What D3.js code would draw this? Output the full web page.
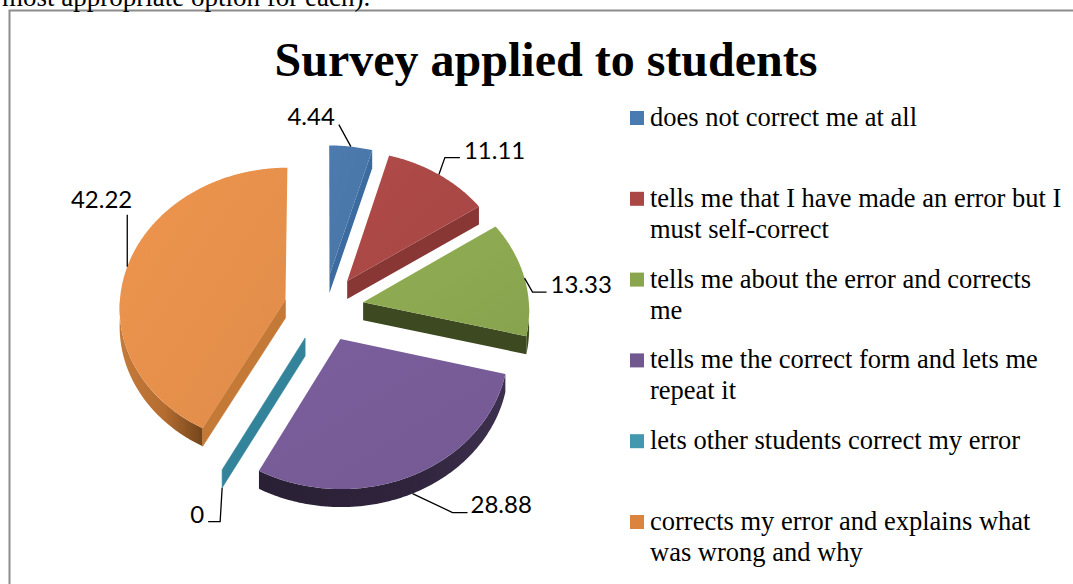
<!DOCTYPE html>
<html>
<head>
<meta charset="utf-8">
<script src="https://cdn.jsdelivr.net/npm/d3@7"></script>
<style>
  html, body { margin: 0; padding: 0; background: #fff; overflow: hidden; }
  svg { display: block; }
</style>
</head>
<body>
<svg id="chart" width="1073" height="584"></svg>
<script>
// ---- data ----
const categories = [
  "does not correct me at all",
  "tells me that I have made an error but I must self-correct",
  "tells me about the error and corrects me",
  "tells me the correct form and lets me repeat it",
  "lets other students correct my error",
  "corrects my error and explains what was wrong and why"
];
const values = [4.44, 11.11, 13.33, 28.88, 0, 42.22];
const valueLabels = ["4.44", "11.11", "13.33", "28.88", "0", "42.22"];
const chartTitle = "Survey applied to students";
const precedingText = "most appropriate option for each).";

// ---- styles ----
const topColors    = ["#4A76A8", "#A94845", "#8BA750", "#765B96", "#3A8FA6", "#E48F4B"];
const radialColors = ["#3C6B9F", "#883735", "#3D4A21", "#2E2339", "#33849A", "#C47937"];
const legendColors = ["#4A7AB2", "#AA4643", "#89A54E", "#71588F", "#4198AF", "#DB843D"];

// ---- 3D pie geometry ----
const cx = 324, cy = 308;          // centre of the top face (unexploded)
const Rx = 166, Ry = 140;          // projected radii
const persp = 0.05;                // near side drawn slightly larger
const depth = 18;                  // thickness of the pie
const explode = 0.24;              // slice offset, in radius units

function proj(X, Z, h) {
  const s = 1 - persp * Z;
  return [cx + X * Rx * s, cy - Z * Ry * s + h * depth];
}

const svg = d3.select("#chart");
const defs = svg.append("defs");

// frame of the chart object
svg.append("rect")
  .attr("x", 9.5).attr("y", 10.5)
  .attr("width", 1200).attr("height", 700)
  .attr("fill", "#fff")
  .attr("stroke", "#8c8c8c").attr("stroke-width", 2);

// tail of the paragraph above the chart
svg.append("text")
  .attr("x", 2).attr("y", 6)
  .attr("font-family", "'Liberation Serif', 'Times New Roman', serif")
  .attr("font-size", 27)
  .attr("fill", "#000")
  .text(precedingText);

// title
svg.append("text")
  .attr("x", 546).attr("y", 76)
  .attr("text-anchor", "middle")
  .attr("font-family", "'Liberation Serif', 'Times New Roman', serif")
  .attr("font-weight", "bold")
  .attr("font-size", 48)
  .attr("fill", "#000")
  .text(chartTitle);

// gradients for the curved outer sides
function sideGradient(id, x1, x2, stops) {
  const g = defs.append("linearGradient").attr("id", id)
    .attr("gradientUnits", "userSpaceOnUse")
    .attr("x1", x1).attr("y1", 0).attr("x2", x2).attr("y2", 0);
  stops.forEach(s => g.append("stop").attr("offset", s[0]).attr("stop-color", s[1]));
  return `url(#${id})`;
}
const outerFill = [
  "#3C6B9F",
  "#883735",
  "#3D4A21",
  sideGradient("sidePurple", 260, 510, [[0, "#2A2035"], [0.6, "#2F243C"], [1, "#3E3150"]]),
  "#33849A",
  sideGradient("sideOrange", 115, 205, [[0, "#C67C3C"], [0.55, "#B46C30"], [1, "#6E4219"]])
];

// subtle lighting on the top faces
function topGradient(id, base) {
  const c = d3.color(base);
  const g = defs.append("linearGradient").attr("id", id)
    .attr("x1", 0).attr("y1", 0).attr("x2", 1).attr("y2", 1);
  g.append("stop").attr("offset", 0).attr("stop-color", c.brighter(0.12).formatHex());
  g.append("stop").attr("offset", 1).attr("stop-color", c.darker(0.06).formatHex());
  return `url(#${id})`;
}
const topFill = topColors.map((c, i) => topGradient("top" + i, c));

const arcs = d3.pie().sort(null).value(d => d)(values);
const line = d3.line();

const slices = arcs.map((a, i) => {
  const mid = (a.startAngle + a.endAngle) / 2;
  return { i, a0: a.startAngle, a1: a.endAngle, mid,
           ox: explode * Math.sin(mid), oz: explode * Math.cos(mid) };
});

function rim(s, from, to, h) {
  const n = Math.max(2, Math.ceil(Math.abs(to - from) / 0.01));
  return d3.range(n + 1).map(k => {
    const t = from + (to - from) * k / n;
    return proj(s.ox + Math.sin(t), s.oz + Math.cos(t), h);
  });
}

const pieG = svg.append("g");
// far slices first
slices.slice().sort((p, q) => q.oz - p.oz).forEach(s => {
  const g = pieG.append("g");
  const c0 = proj(s.ox, s.oz, 0), c1 = proj(s.ox, s.oz, 1);
  // outer curved side, front half only
  const lo = Math.max(s.a0, Math.PI / 2), hi = Math.min(s.a1, 3 * Math.PI / 2);
  if (hi > lo) {
    const pts = rim(s, lo, hi, 0).concat(rim(s, hi, lo, 1));
    g.append("path").attr("d", line(pts) + "Z").attr("fill", outerFill[s.i]);
  }
  // radial faces
  if (Math.sin(s.a0) < -1e-6) {
    const p0 = proj(s.ox + Math.sin(s.a0), s.oz + Math.cos(s.a0), 0);
    const p1 = proj(s.ox + Math.sin(s.a0), s.oz + Math.cos(s.a0), 1);
    g.append("path").attr("d", line([c0, p0, p1, c1]) + "Z")
      .attr("fill", radialColors[s.i]).attr("stroke", radialColors[s.i]).attr("stroke-width", 0.6);
  }
  if (Math.sin(s.a1) > 1e-6) {
    const p0 = proj(s.ox + Math.sin(s.a1), s.oz + Math.cos(s.a1), 0);
    const p1 = proj(s.ox + Math.sin(s.a1), s.oz + Math.cos(s.a1), 1);
    g.append("path").attr("d", line([c0, p0, p1, c1]) + "Z")
      .attr("fill", radialColors[s.i]);
  }
  // top face
  if (s.a1 > s.a0) {
    const pts = [c0].concat(rim(s, s.a0, s.a1, 0));
    g.append("path").attr("d", line(pts) + "Z").attr("fill", topFill[s.i]);
  }
});

// ---- data labels with leader lines ----
// elbow / end offsets of each leader, and where the text sits relative to its end
const labelLayout = [
  { elbow: [-12, -22], run: 0,   anchor: "end",   tx: -4, ty: 0 },
  { elbow: [6, -17],   run: 15,  anchor: "start", tx: 4,  ty: 1 },
  { elbow: [8, 14],    run: 14,  anchor: "start", tx: 4,  ty: 1 },
  { elbow: [40, 19],   run: 15,  anchor: "start", tx: 3,  ty: 0 },
  { elbow: [-2, 34],   run: -12, anchor: "end",   tx: -4, ty: 1 },
  { elbow: [0, -52],   run: 0,   anchor: "end",   tx: 5,  ty: -7 }
];
const labelG = svg.append("g");
slices.forEach(s => {
  const L = labelLayout[s.i];
  // leaders of near-side slices start from the bottom edge of the rim
  const fromBottom = (s.a1 - s.a0 < 1e-6 && Math.cos(s.mid) < 0) || Math.cos(s.mid) < -0.5;
  const start = proj(s.ox + Math.sin(s.mid), s.oz + Math.cos(s.mid), fromBottom ? 1 : 0);
  const elbow = [start[0] + L.elbow[0], start[1] + L.elbow[1]];
  const end = [elbow[0] + L.run, elbow[1]];
  labelG.append("path")
    .attr("d", line([start, elbow, end]))
    .attr("fill", "none").attr("stroke", "#000").attr("stroke-width", 1.3);
  labelG.append("text")
    .attr("x", end[0] + L.tx).attr("y", end[1] + L.ty)
    .attr("text-anchor", L.anchor)
    .attr("font-family", "Lato, 'Open Sans', sans-serif")
    .attr("font-size", 24)
    .attr("fill", "#000")
    .text(valueLabels[s.i]);
});

// ---- legend ----
const legendX = 630, legendTextX = 650, legendTop = 126, legendStep = 80.8, lineGap = 31, wrapWidth = 418;
const legendG = svg.append("g")
  .attr("font-family", "'Liberation Serif', 'Times New Roman', serif")
  .attr("font-size", 26.5)
  .attr("fill", "#000");
categories.forEach((cat, i) => {
  const y = legendTop + i * legendStep;
  legendG.append("rect")
    .attr("x", legendX).attr("y", y - 15)
    .attr("width", 14).attr("height", 14)
    .attr("fill", legendColors[i]);
  const t = legendG.append("text").attr("x", legendTextX).attr("y", y);
  // word wrap
  const words = cat.split(" ");
  let lineNo = 0, cur = [];
  let ts = t.append("tspan").attr("x", legendTextX).attr("y", y);
  words.forEach(w => {
    cur.push(w);
    ts.text(cur.join(" "));
    if (ts.node().getComputedTextLength() > wrapWidth && cur.length > 1) {
      cur.pop();
      ts.text(cur.join(" "));
      cur = [w];
      lineNo++;
      ts = t.append("tspan").attr("x", legendTextX).attr("y", y + lineNo * lineGap).text(w);
    }
  });
});
</script>
</body>
</html>
